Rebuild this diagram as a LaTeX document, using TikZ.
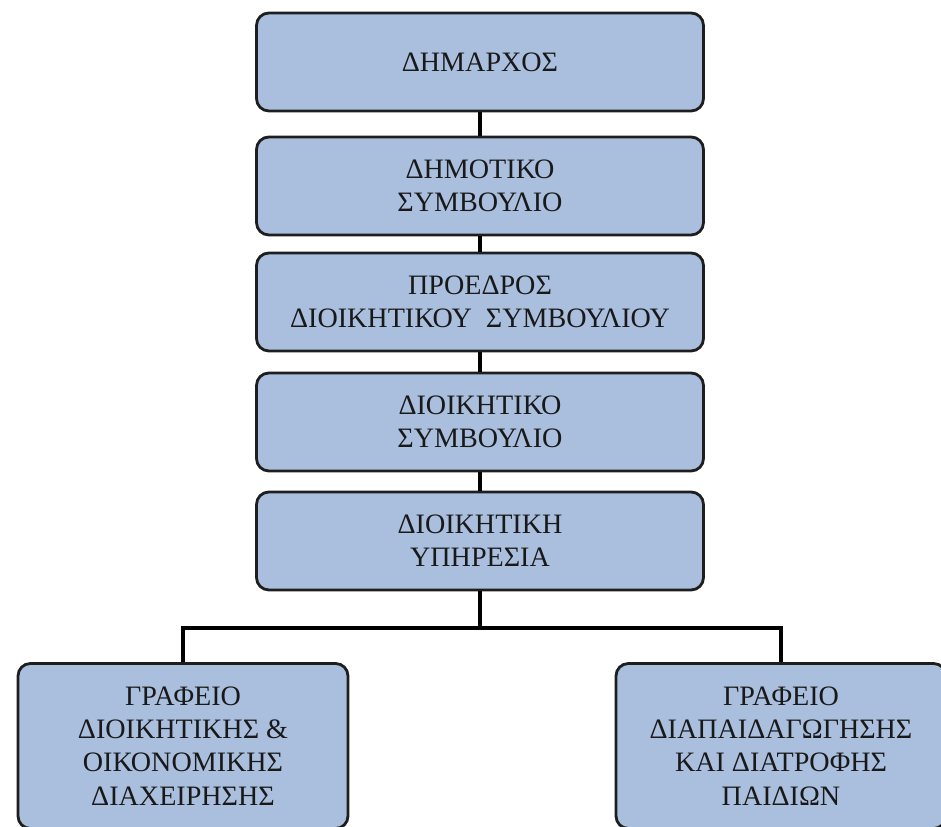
\documentclass[tikz,border=0pt]{standalone}
\usepackage{fontspec}
\setmainfont{Liberation Serif}
\definecolor{boxblue}{RGB}{170,191,222}
\definecolor{boxedge}{RGB}{30,30,30}
\tikzset{
  orgbox/.style={draw=boxedge, fill=boxblue, line width=1.6pt, rounded corners=7pt,
    align=center, text=black!90, font=\fontsize{16}{19}\selectfont,
    minimum width=8.94cm, minimum height=1.96cm},
  leafbox/.style={orgbox, minimum width=6.6cm, minimum height=3.3cm},
  orgline/.style={line width=2.4pt, black}
}
\begin{document}
\begin{tikzpicture}[x=0.02cm, y=-0.02cm]
    \useasboundingbox (0,0) rectangle (941,827);

    % hierarchy
    \node[orgbox] (dimarxos) at (480,62) {ΔΗΜΑΡΧΟΣ};
    \node[orgbox] (dimsymv) at (480,186) {ΔΗΜΟΤΙΚΟ\\ΣΥΜΒΟΥΛΙΟ};
    \node[orgbox] (proedros) at (480,302) {ΠΡΟΕΔΡΟΣ\\ΔΙΟΙΚΗΤΙΚΟΥ\ \ ΣΥΜΒΟΥΛΙΟΥ};
    \node[orgbox] (dioiksymv) at (480,422) {ΔΙΟΙΚΗΤΙΚΟ\\ΣΥΜΒΟΥΛΙΟ};
    \node[orgbox] (ypiresia) at (480,541) {ΔΙΟΙΚΗΤΙΚΗ\\ΥΠΗΡΕΣΙΑ};

    % offices
    \node[leafbox] (grafoik) at (183,746) {ΓΡΑΦΕΙΟ\\ΔΙΟΙΚΗΤΙΚΗΣ \&\\ΟΙΚΟΝΟΜΙΚΗΣ\\ΔΙΑΧΕΙΡΗΣΗΣ};
    \node[leafbox] (grafpaid) at (781,746) {ΓΡΑΦΕΙΟ\\ΔΙΑΠΑΙΔΑΓΩΓΗΣΗΣ\\ΚΑΙ ΔΙΑΤΡΟΦΗΣ\\ΠΑΙΔΙΩΝ};

    \coordinate (bus) at (480,628);

    % Connections
    \draw[orgline] (dimarxos.south) -- (dimsymv.north);
    \draw[orgline] (dimsymv.south) -- (proedros.north);
    \draw[orgline] (proedros.south) -- (dioiksymv.north);
    \draw[orgline] (dioiksymv.south) -- (ypiresia.north);
    \draw[orgline] (ypiresia.south) -- (bus);
    \draw[orgline] (grafoik.north) |- (bus) -| (grafpaid.north);
\end{tikzpicture}
\end{document}
